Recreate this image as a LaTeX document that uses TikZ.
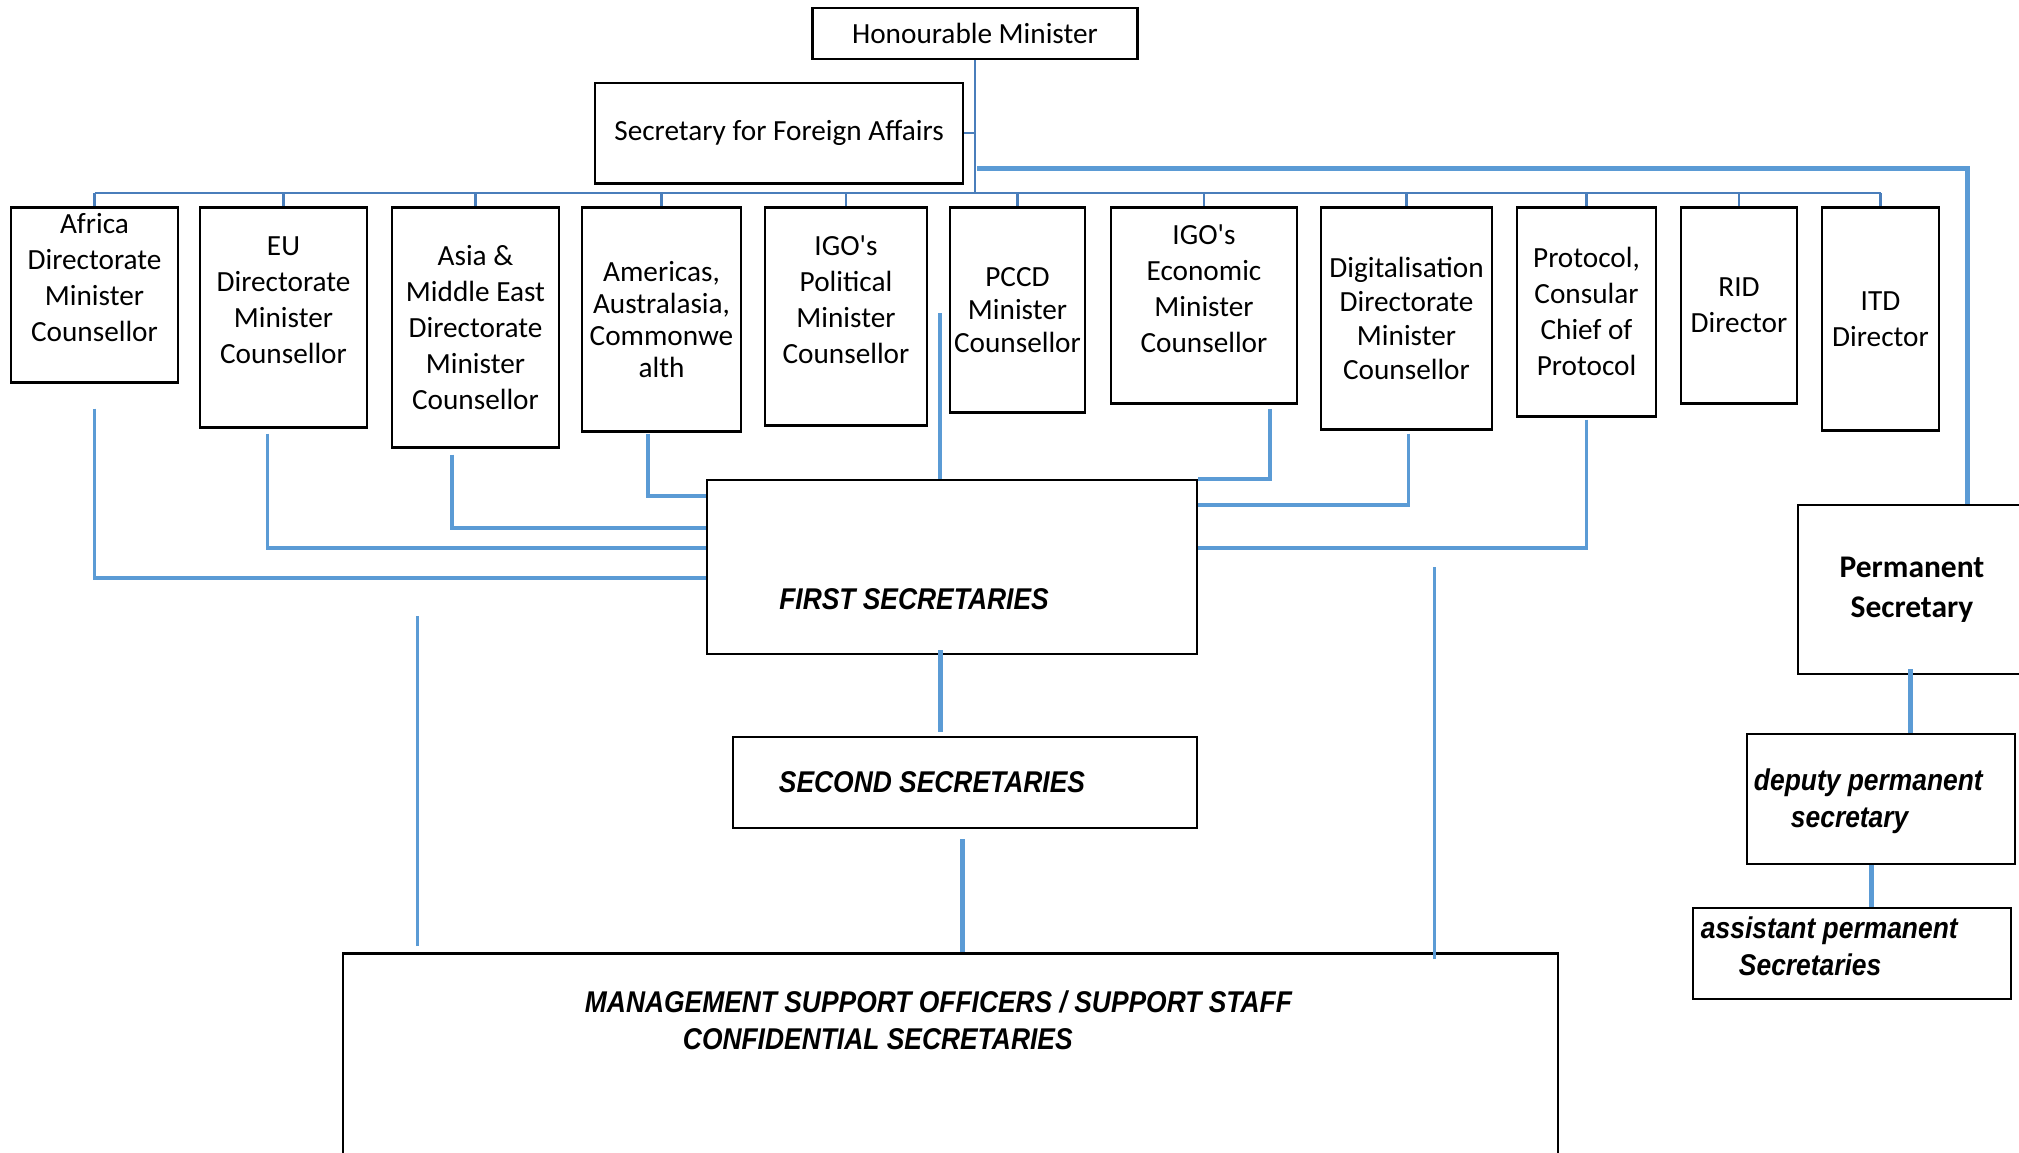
\documentclass[tikz,border=0pt]{standalone}
\usepackage{fontspec}
\setmainfont{Carlito}
\newfontfamily\rankfont[FakeStretch=0.88]{Liberation Sans}
\definecolor{orgblue}{HTML}{4A7EBB}
\definecolor{linkblue}{HTML}{5B9BD5}

\begin{document}
\begin{tikzpicture}[x=1pt,y=-1pt,
    unit/.style={draw=black,line width=2.5pt,anchor=north,align=center,inner sep=0pt,
        font=\fontsize{29.25}{36}\selectfont},
    post/.style={draw=black,line width=2.5pt,inner sep=0pt},
    rank/.style={inner sep=0pt,font=\rankfont\bfseries\itshape\fontsize{30}{36.5}\selectfont},
    org/.style={draw=orgblue,line width=2.5pt},
    bar/.style={draw=linkblue,line width=5pt},
    link/.style={draw=linkblue,line width=3.5pt},
    thin link/.style={draw=linkblue,line width=3pt},
    bold link/.style={draw=linkblue,line width=5pt}]

        \useasboundingbox (0,0) rectangle (2019,1153);

        % Define posts
        \node[unit,minimum width=325pt,minimum height=51pt] (hm) at (975,7) {Honourable Minister};
        \node[unit,minimum width=368pt,minimum height=100pt] (sfa) at (779,82) {Secretary for Foreign Affairs};

        \node[unit,minimum width=167pt,minimum height=175pt,text depth=35pt] (afr) at (94.5,206) {Africa\\Directorate\\Minister\\Counsellor};
        \node[unit,minimum width=167pt,minimum height=220pt,text depth=34pt] (eu) at (283.5,206) {EU\\Directorate\\Minister\\Counsellor};
        \node[unit,minimum width=167pt,minimum height=240pt] (asia) at (475.5,206) {Asia \&\\Middle East\\Directorate\\Minister\\Counsellor};
        \node[unit,minimum width=159pt,minimum height=224pt,font=\fontsize{29.25}{32}\selectfont] (amer) at (661.5,206) {Americas,\\Australasia,\\Commonwe\\alth};
        \node[unit,minimum width=162pt,minimum height=218pt,text depth=34pt] (igop) at (846,206) {IGO\textquotesingle s\\Political\\Minister\\Counsellor};
        \node[unit,minimum width=135pt,minimum height=205pt,font=\fontsize{29.25}{33}\selectfont] (pccd) at (1017.5,206) {PCCD\\Minister\\Counsellor};
        \node[unit,minimum width=186pt,minimum height=196pt,text depth=34pt] (igoe) at (1204,206) {IGO\textquotesingle s\\Economic\\Minister\\Counsellor};
        \node[unit,minimum width=171pt,minimum height=222pt,font=\fontsize{29.25}{34}\selectfont] (digi) at (1406.5,206) {Digitalisation\\Directorate\\Minister\\Counsellor};
        \node[unit,minimum width=139pt,minimum height=209pt] (prot) at (1586.5,206) {Protocol,\\Consular\\Chief of\\Protocol};
        \node[unit,minimum width=116pt,minimum height=196pt] (rid) at (1739,206) {RID\\Director};
        \node[unit,minimum width=117pt,minimum height=223pt] (itd) at (1880.5,206) {ITD\\Director};

        \node[post,minimum width=490pt,minimum height=174pt] (first) at (952,567) {};
        \node[rank] (firsttxt) at ([xshift=-38pt,yshift=-32pt]first.center) {FIRST SECRETARIES};
        \node[post,minimum width=464pt,minimum height=91pt] (second) at (965,782.5) {};
        \node[rank] (secondtxt) at ([xshift=-33pt]second.center) {SECOND SECRETARIES};
        \node[post,minimum width=1215pt,minimum height=300pt,anchor=north] (mso) at (950.5,952) {};
        \node[rank,align=left,anchor=west] (msotxt) at ([xshift=243pt,yshift=-68.5pt]mso.north west)
            {MANAGEMENT SUPPORT OFFICERS / SUPPORT STAFF\\\hspace*{98pt}CONFIDENTIAL SECRETARIES};

        \node[post,minimum width=228pt,minimum height=169pt,align=center,
            font=\bfseries\fontsize{31.5}{40}\selectfont] (perm) at (1912,589.5) {Permanent\\Secretary};
        \node[post,minimum width=268pt,minimum height=130pt] (dps) at (1881,799) {};
        \node[rank,align=left,anchor=west] (dpstxt) at ([xshift=8pt,yshift=-2pt]dps.west) {deputy permanent\\\hspace*{37pt}secretary};
        \node[post,minimum width=318pt,minimum height=91pt] (aps) at (1852,953.5) {};
        \node[rank,align=left,anchor=west] (apstxt) at ([xshift=9pt,yshift=7pt]aps.west) {assistant permanent\\\hspace*{38pt}Secretaries};

        % Draw lines
        \coordinate (bus) at (975,193);
        \coordinate (split) at (977,169);
        \draw[org] (hm.south) -- (bus);
        \draw[org] (sfa.east) -- (sfa.east -| hm.south);
        \draw[org] (afr.north |- bus) -- (itd.north |- bus);
        \path[org]
            (afr.north |- bus) edge (afr.north)
            (eu.north |- bus) edge (eu.north)
            (asia.north |- bus) edge (asia.north)
            (amer.north |- bus) edge (amer.north)
            (igop.north |- bus) edge (igop.north)
            (pccd.north |- bus) edge (pccd.north)
            (igoe.north |- bus) edge (igoe.north)
            (digi.north |- bus) edge (digi.north)
            (prot.north |- bus) edge (prot.north)
            (rid.north |- bus) edge (rid.north)
            (itd.north |- bus) edge (itd.north);
        \draw[bar] (split) -| ([xshift=55pt]perm.north);

        \draw[link] ([yshift=-25pt]afr.south) |- ([yshift=-11pt]first.west);
        \draw[link] ([xshift=-16pt,yshift=-5pt]eu.south) |- ([yshift=19pt]first.west);
        \draw[link] ([xshift=-23.5pt,yshift=-6pt]asia.south) |- ([yshift=39pt]first.west);
        \draw[link] ([xshift=-13.5pt,yshift=-1pt]amer.south) |- ([yshift=71pt]first.west);
        \draw[link] ([xshift=-12pt]first.north) -- ++(0,-166);
        \draw[link] ([xshift=66pt,yshift=-4pt]igoe.south) |- (first.north east);
        \draw[link] ([xshift=2pt,yshift=-3pt]digi.south) |- ([yshift=62pt]first.east);
        \draw[link] ([yshift=-2pt]prot.south) |- ([yshift=19pt]first.east);

        \draw[thin link] ([xshift=76pt,yshift=6pt]mso.north west) -- ++(0,-330);
        \draw[thin link] ([xshift=-125pt,yshift=-7pt]mso.north east) -- ++(0,-392);

        \draw[bold link] ([xshift=-12pt,yshift=5pt]first.south) -- ([xshift=-25pt,yshift=4pt]second.north);
        \draw[bold link] ([xshift=-3pt,yshift=-10pt]second.south) -- ([xshift=11.5pt]mso.north);
        \draw[bold link] ([xshift=-2pt,yshift=6pt]perm.south) -- ([xshift=29pt]dps.north);
        \draw[bold link] ([xshift=-10pt]dps.south) -- ([xshift=19pt]aps.north);

        \end{tikzpicture}
\end{document}
